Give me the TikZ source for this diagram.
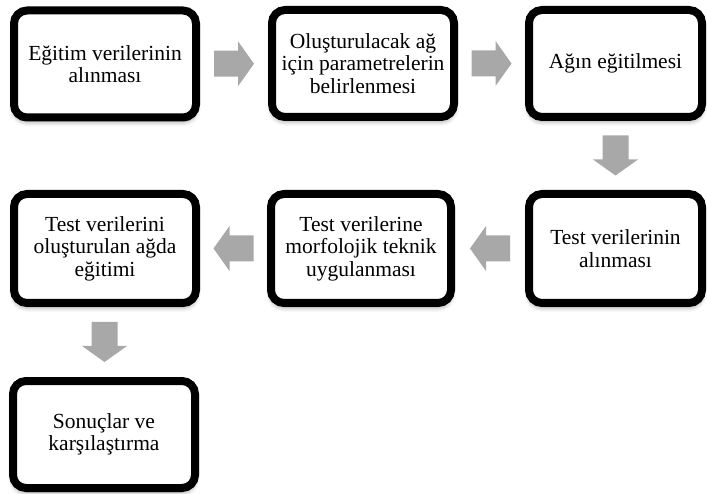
\documentclass[tikz,border=0pt]{standalone}
\usepackage{fontspec}
\setmainfont{Liberation Serif}
\usetikzlibrary{shadows.blur,calc}
\definecolor{arrowgray}{RGB}{168,168,168}
\tikzset{
  box/.style={draw=black, line width=8pt, rounded corners=13pt, fill=white,
    minimum width=182pt, minimum height=107pt, inner sep=0pt, align=center,
    font=\fontsize{21.5pt}{22.5pt}\selectfont,
    blur shadow={shadow xshift=0pt, shadow yshift=-4pt, shadow blur radius=5pt, shadow opacity=45}},
  blk/.pic={\fill[arrowgray] (-20,-13) -- (4,-13) -- (4,-22.5) -- (20,0) -- (4,22.5) -- (4,13) -- (-20,13) -- cycle;}
}
\begin{document}
\begin{tikzpicture}[x=1pt,y=-1pt]
\useasboundingbox (0,0) rectangle (707,494);
\node[box] (b1) at (105,64) {Eğitim verilerinin\\alınması};
\node[box] (b2) at (363,63.5) {Oluşturulacak ağ\\için parametrelerin\\belirlenmesi};
\node[box, minimum width=173pt] (b3) at (615.5,63.5) {Ağın eğitilmesi};
\node[box, minimum width=173pt, minimum height=109pt] (b4) at (615.5,248.5) {Test verilerinin\\alınması};
\node[box, minimum width=180pt, minimum height=109pt] (b5) at (361,248.5) {Test verilerine\\morfolojik teknik\\uygulanması};
\node[box, minimum height=109pt] (b6) at (105,248.5) {Test verilerini\\oluşturulan ağda\\eğitimi};
\node[box] (b7) at (104,434.5) {Sonuçlar ve\\karşılaştırma};
\path ($(b1.east)!0.5!(b2.west)$) pic {blk};
\path ($(b2.east)!0.5!(b3.west)$) pic {blk};
\path ($(b3.south)!0.5!(b4.north)$) pic[rotate=-90] {blk};
\path ($(b4.west)!0.5!(b5.east)$) pic[rotate=180] {blk};
\path ($(b5.west)!0.5!(b6.east)$) pic[rotate=180] {blk};
\path ($(b6.south)!0.5!(b7.north)$) pic[rotate=-90] {blk};
\end{tikzpicture}
\end{document}
